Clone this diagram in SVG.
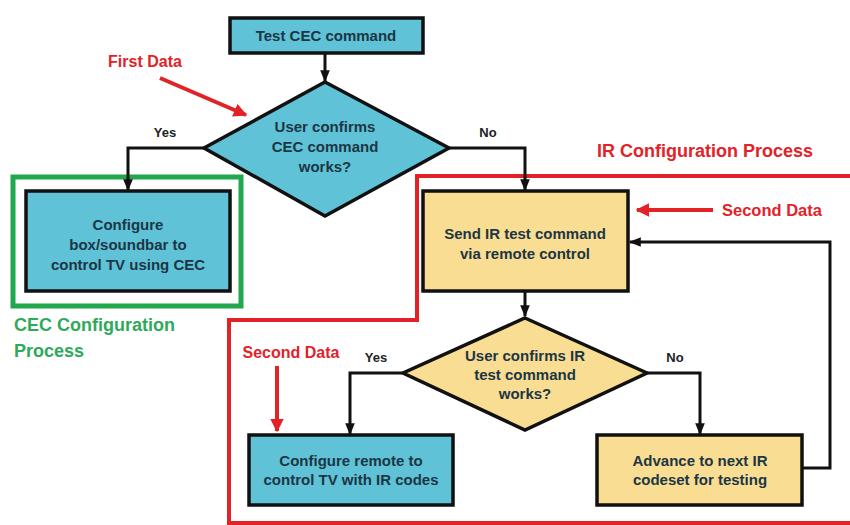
<svg xmlns="http://www.w3.org/2000/svg" width="850" height="525" viewBox="0 0 850 525">
<defs>
<marker id="ah" viewBox="0 0 10 10" refX="9" refY="5" markerWidth="4" markerHeight="4" orient="auto" markerUnits="strokeWidth">
<path d="M0,1 L10,5 L0,9 z" fill="#111"/>
</marker>
<marker id="rh" viewBox="0 0 10 10" refX="9" refY="5" markerWidth="3.4" markerHeight="3.6" orient="auto" markerUnits="strokeWidth">
<path d="M0,0 L10,5 L0,10 z" fill="#e32228"/>
</marker>
<style>
.blue{fill:#5fc2d7;stroke:#111;stroke-width:3.5}
.yel{fill:#f9dd93;stroke:#111;stroke-width:3.5}
.t{font-family:"Liberation Sans",Arial,sans-serif;font-weight:bold;font-size:15px;fill:#1c3644;text-anchor:middle}
.lbl{font-family:"Liberation Sans",Arial,sans-serif;font-weight:bold;font-size:13px;fill:#222;text-anchor:middle}
.red{font-family:"Liberation Sans",Arial,sans-serif;font-weight:bold;fill:#e32228}
.grn{font-family:"Liberation Sans",Arial,sans-serif;font-weight:bold;font-size:18px;fill:#2fa95a}
.c{fill:none;stroke:#111;stroke-width:3;marker-end:url(#ah)}
.ra{fill:none;stroke:#e32228;stroke-width:4;marker-end:url(#rh)}
</style>
</defs>
<rect width="850" height="525" fill="#fff"/>

<g id="regions">
<rect x="13" y="177" width="228" height="129" fill="none" stroke="#21a84c" stroke-width="5"/>
<path d="M850,176 L417,176 L417,320 L229,320 L229,523 L850,523" fill="none" stroke="#e32228" stroke-width="4"/>
<text class="grn" x="14" y="331">CEC Configuration</text>
<text class="grn" x="14" y="357">Process</text>
<text class="red" x="705" y="157" font-size="18" text-anchor="middle">IR Configuration Process</text>
</g>

<g id="annotations">
<text class="red" x="145" y="67" font-size="16" text-anchor="middle">First Data</text>
<line class="ra" x1="160" y1="78" x2="246" y2="115"/>
<text class="red" x="772" y="216" font-size="16.5" text-anchor="middle">Second Data</text>
<line class="ra" x1="713" y1="210" x2="637" y2="210"/>
<text class="red" x="291" y="358" font-size="16" text-anchor="middle">Second Data</text>
<line class="ra" x1="277" y1="366" x2="277" y2="431"/>
</g>

<g id="connectors">
<line class="c" x1="325" y1="53" x2="325" y2="81"/>
<polyline class="c" points="205,148 128,148 128,190"/>
<polyline class="c" points="449,148 525,148 525,190"/>
<line class="c" x1="525" y1="292" x2="525" y2="316"/>
<polyline class="c" points="403,373 350,373 350,434"/>
<polyline class="c" points="647,373 700,373 700,434"/>
<polyline class="c" points="803,468 830,468 830,242 630,242"/>
<text class="lbl" x="165" y="137">Yes</text>
<text class="lbl" x="488" y="137">No</text>
<text class="lbl" x="376" y="362">Yes</text>
<text class="lbl" x="675" y="362">No</text>
</g>

<g id="n_test">
<rect class="blue" x="230" y="18" width="193" height="35"/>
<text class="t" x="326" y="41">Test CEC command</text>
</g>

<g id="n_dec1">
<polygon class="blue" points="325,82 449,148 325,216 204,148"/>
<text class="t" x="325" y="132">User confirms</text>
<text class="t" x="325" y="152">CEC command</text>
<text class="t" x="325" y="172">works?</text>
</g>

<g id="n_cec">
<rect class="blue" x="26" y="191" width="204" height="100"/>
<text class="t" x="128" y="230">Configure</text>
<text class="t" x="128" y="250">box/soundbar to</text>
<text class="t" x="128" y="270">control TV using CEC</text>
</g>

<g id="n_send">
<rect class="yel" x="423" y="191" width="205" height="100"/>
<text class="t" x="525" y="239">Send IR test command</text>
<text class="t" x="525" y="259">via remote control</text>
</g>

<g id="n_dec2">
<polygon class="yel" points="525,318 647,373 525,430 403,373"/>
<text class="t" x="525" y="361">User confirms IR</text>
<text class="t" x="525" y="380">test command</text>
<text class="t" x="525" y="399">works?</text>
</g>

<g id="n_remote">
<rect class="blue" x="249" y="435" width="204" height="70"/>
<text class="t" x="351" y="466">Configure remote to</text>
<text class="t" x="351" y="485">control TV with IR codes</text>
</g>

<g id="n_adv">
<rect class="yel" x="597" y="435" width="205" height="70"/>
<text class="t" x="700" y="466">Advance to next IR</text>
<text class="t" x="700" y="485">codeset for testing</text>
</g>
</svg>
